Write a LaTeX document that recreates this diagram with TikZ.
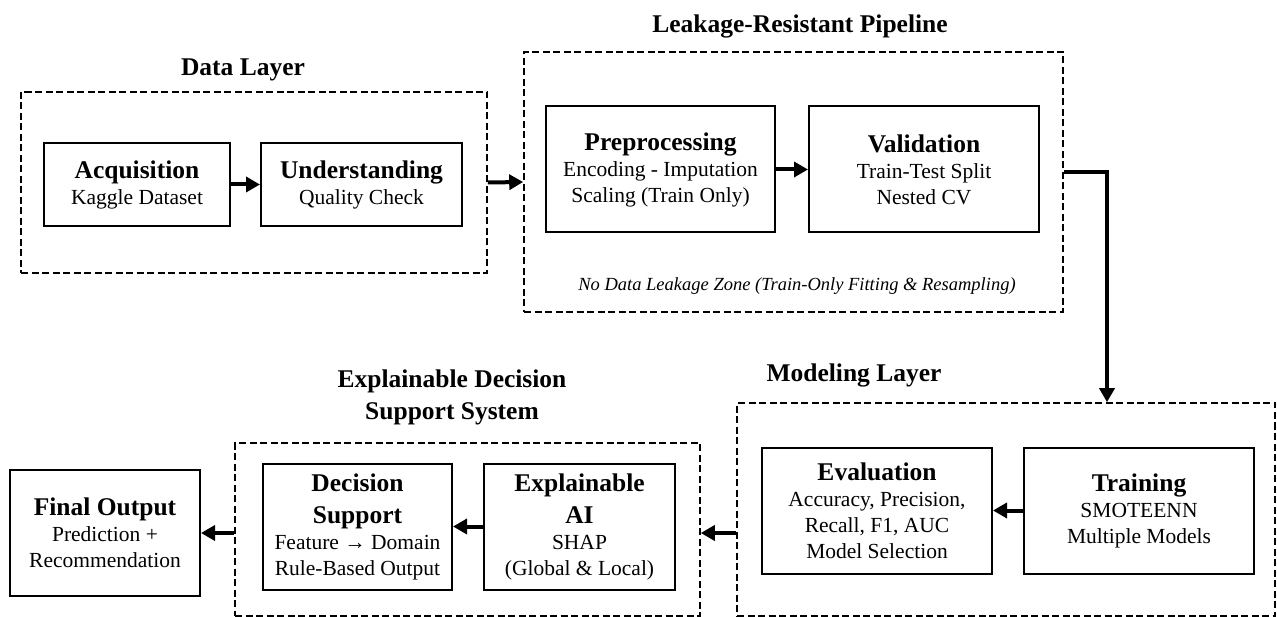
\documentclass[tikz,border=0pt]{standalone}
\usepackage{fontspec}
\setmainfont{Liberation Serif}
\usetikzlibrary{arrows.meta}

\newcommand{\stagehead}[1]{{\fontsize{25.5}{31}\selectfont\bfseries #1}}

\begin{document}
\begin{tikzpicture}[x=1pt,y=-1pt,
  stagebox/.style={draw, line width=2pt, align=center, inner sep=0pt,
                   font=\fontsize{21.5}{26}\selectfont},
  layerbox/.style={draw, line width=1.6pt, dash pattern=on 7pt off 3.5pt},
  layertitle/.style={font=\fontsize{25.5}{32}\selectfont\bfseries, align=center},
  flowarrow/.style={line width=4pt, -{Triangle[length=14pt,width=15pt]}}]

\useasboundingbox (0,0) rectangle (1277,617);

% dashed layer frames
\node[layerbox, minimum width=466pt, minimum height=181pt] (datalayer) at (254,182.5) {};
\node[layerbox, minimum width=539pt, minimum height=260pt] (pipeline) at (793.5,182) {};
\node[layerbox, minimum width=538pt, minimum height=213pt] (modeling) at (1006,509.5) {};
\node[layerbox, minimum width=465pt, minimum height=173pt] (xdss) at (467.5,529.5) {};

% layer titles
\node[layertitle, anchor=base] (datatitle) at (243,76) {Data Layer};
\node[layertitle, anchor=base] (pipetitle) at (800,33) {Leakage-Resistant Pipeline};
\node[layertitle, anchor=base] (modeltitle) at (854,382) {Modeling Layer};
\node[layertitle] (xdsstitle) at (452,397) {Explainable Decision\\Support System};
\node[anchor=base, font=\fontsize{18.5}{22}\selectfont\itshape] (leaknote) at (797,291)
  {No Data Leakage Zone (Train-Only Fitting \& Resampling)};

% stages
\node[stagebox, minimum width=186pt, minimum height=83pt] (acq) at (137,184.5)
  {\stagehead{Acquisition}\\Kaggle Dataset};
\node[stagebox, minimum width=201pt, minimum height=83pt] (und) at (361.5,184.5)
  {\stagehead{Understanding}\\Quality Check};
\node[stagebox, minimum width=229pt, minimum height=126pt] (prep) at (660.5,169.5)
  {\stagehead{Preprocessing}\\Encoding - Imputation\\Scaling (Train Only)};
\node[stagebox, minimum width=230pt, minimum height=126pt] (valid) at (924,169.5)
  {\stagehead{Validation}\\Train-Test Split\\Nested CV};
\node[stagebox, minimum width=230pt, minimum height=126pt] (train) at (1139,510.5)
  {\stagehead{Training}\\SMOTEENN\\Multiple Models};
\node[stagebox, minimum width=230pt, minimum height=126pt] (eval) at (877,510.5)
  {\stagehead{Evaluation}\\Accuracy, Precision,\\Recall, F1, AUC\\Model Selection};
\node[stagebox, minimum width=191pt, minimum height=126pt] (xai) at (579.5,526.5)
  {\stagehead{Explainable}\\[6pt]\stagehead{AI}\\SHAP\\(Global \& Local)};
\node[stagebox, minimum width=189pt, minimum height=126pt] (ds) at (357.5,526.5)
  {\stagehead{Decision}\\[6pt]\stagehead{Support}\\Feature → Domain\\Rule-Based Output};
\node[stagebox, minimum width=190pt, minimum height=126pt] (final) at (105,533)
  {\stagehead{Final Output}\\Prediction +\\Recommendation};

% connectors
\foreach \a/\b in {acq/und, prep/valid, train/eval, xai/ds}
  \draw[flowarrow] (\a) -- (\b);
\draw[flowarrow] (datalayer.east) -- (pipeline.west);
\coordinate (bend) at (1107,172);
\draw[flowarrow] (pipeline.east |- bend) -- (bend) -- (bend |- modeling.north);
\draw[flowarrow] (modeling.west |- final) -- (xdss.east |- final);
\draw[flowarrow] (xdss.west |- final) -- (final.east);
\end{tikzpicture}
\end{document}
